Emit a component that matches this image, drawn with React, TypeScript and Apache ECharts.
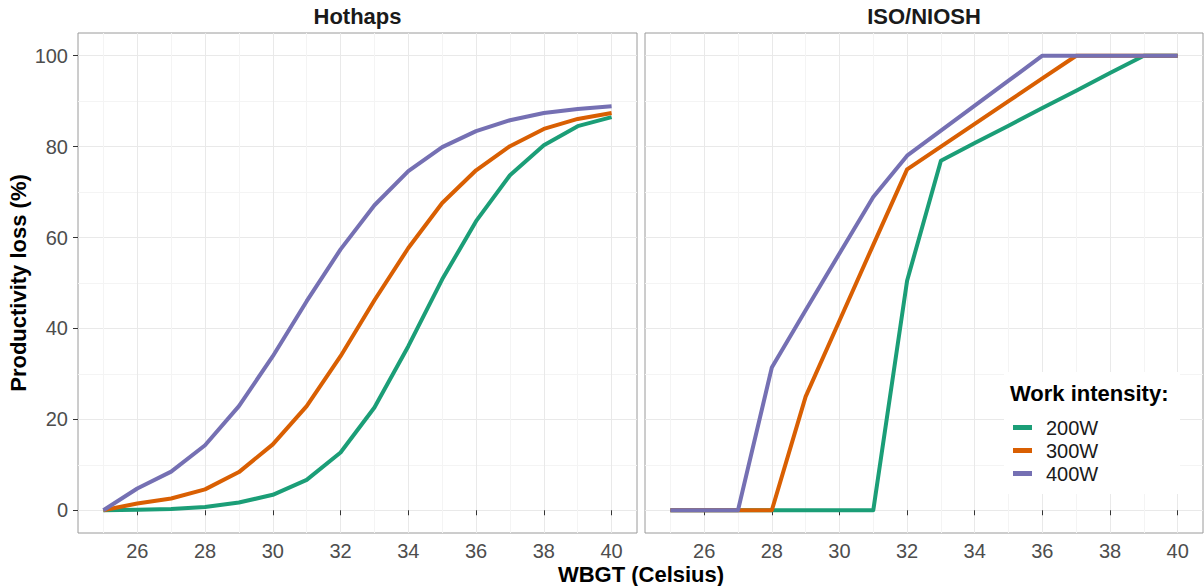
import React, { useEffect, useRef } from "react";
import * as echarts from "echarts";

const wbgt = [25, 26, 27, 28, 29, 30, 31, 32, 33, 34, 35, 36, 37, 38, 39, 40];

const hothaps200 = [0, 0.1, 0.3, 0.7, 1.7, 3.4, 6.7, 12.7, 22.6, 36.1, 50.8, 63.6, 73.7, 80.3, 84.5, 86.5];
const hothaps300 = [0, 1.5, 2.6, 4.6, 8.4, 14.5, 22.9, 33.9, 46.2, 57.7, 67.6, 74.8, 80.1, 83.9, 86.1, 87.4];
const hothaps400 = [0, 4.8, 8.5, 14.3, 22.9, 33.9, 46.0, 57.4, 67.1, 74.6, 79.9, 83.4, 85.8, 87.4, 88.3, 88.9];

const iso200 = [0, 0, 0, 0, 0, 0, 0, 50.5, 76.9, 80.8, 84.6, 88.5, 92.3, 96.2, 100, 100];
const iso300 = [0, 0, 0, 0, 25, 41.7, 58.4, 75, 80, 85, 90, 95, 100, 100, 100, 100];
const iso400 = [0, 0, 0, 31.4, 44, 56.5, 68.9, 78, 83.5, 89, 94.5, 100, 100, 100, 100, 100];

const panelTitles = ["Hothaps", "ISO/NIOSH"];
const seriesNames = ["200W", "300W", "400W"];
const colors = ["#1B9E77", "#D95F02", "#7570B3"];

const xTicks = [26, 28, 30, 32, 34, 36, 38, 40];
const xMinor = [25, 27, 29, 31, 33, 35, 37, 39];
const yTicks = [0, 20, 40, 60, 80, 100];
const yMinor = [10, 30, 50, 70, 90];

const FONT = "'Liberation Sans', Arial, Helvetica, sans-serif";

export default function App() {
  const ref = useRef<HTMLDivElement>(null);

  useEffect(() => {
    if (!ref.current) return;
    const chart = echarts.init(ref.current, undefined, { renderer: "svg" });

    const panels = [
      [hothaps200, hothaps300, hothaps400],
      [iso200, iso300, iso400],
    ];
    const gridLefts = [78, 645];
    const gridWidths = [559, 558];

    const grids = gridLefts.map((l, i) => ({
      left: l,
      top: 33,
      width: gridWidths[i],
      height: 500,
      show: true,
      borderColor: "#9a9a9a",
      borderWidth: 1,
      backgroundColor: "transparent",
    }));

    const xAxes: any[] = [];
    const yAxes: any[] = [];
    for (let p = 0; p < 2; p++) {
      xAxes.push({
        gridIndex: p,
        type: "value",
        min: 24.25,
        max: 40.75,
        axisLine: { show: false },
        axisTick: { show: true, customValues: xTicks, length: 5, lineStyle: { color: "#333333", width: 1 } },
        axisLabel: { customValues: xTicks, fontSize: 20, color: "#4d4d4d", margin: 8, fontFamily: FONT },
        splitLine: { show: true, lineStyle: { color: "#e9e9e9", width: 1 } },
      });
      xAxes.push({
        gridIndex: p,
        type: "value",
        min: 24.25,
        max: 40.75,
        position: "bottom",
        axisLine: { show: false },
        axisTick: { show: false, customValues: xMinor },
        axisLabel: { show: false, customValues: xMinor },
        splitLine: { show: true, lineStyle: { color: "#f4f4f4", width: 1 } },
      });
      yAxes.push({
        gridIndex: p,
        type: "value",
        min: -5,
        max: 105,
        axisLine: { show: false },
        axisTick: { show: p === 0, customValues: yTicks, length: 5, lineStyle: { color: "#333333", width: 1 } },
        axisLabel: { show: p === 0, customValues: yTicks, fontSize: 20, color: "#4d4d4d", margin: 10, fontFamily: FONT },
        splitLine: { show: true, lineStyle: { color: "#e9e9e9", width: 1 } },
      });
      yAxes.push({
        gridIndex: p,
        type: "value",
        min: -5,
        max: 105,
        position: "left",
        axisLine: { show: false },
        axisTick: { show: false, customValues: yMinor },
        axisLabel: { show: false, customValues: yMinor },
        splitLine: { show: true, lineStyle: { color: "#f4f4f4", width: 1 } },
      });
    }

    const series: any[] = [];
    panels.forEach((sets, p) => {
      sets.forEach((vals, k) => {
        series.push({
          type: "line",
          name: seriesNames[k],
          xAxisIndex: p * 2,
          yAxisIndex: p * 2,
          data: wbgt.map((x, i) => [x, vals[i]]),
          showSymbol: false,
          symbol: "none",
          lineStyle: { width: 4, color: colors[k], join: "round", cap: "butt" },
          itemStyle: { color: colors[k] },
          z: 3,
        });
      });
    });

    const graphic: any[] = [
      ...panelTitles.map((t, i) => ({
        type: "text",
        x: gridLefts[i] + gridWidths[i] / 2,
        y: 16,
        style: { text: t, font: `bold 22px ${FONT}`, fill: "#1a1a1a", align: "center", verticalAlign: "middle" },
      })),
      {
        type: "text",
        x: 641,
        y: 574,
        style: { text: "WBGT (Celsius)", font: `bold 22px ${FONT}`, fill: "#000000", align: "center", verticalAlign: "middle" },
      },
      {
        type: "text",
        x: 18,
        y: 283,
        rotation: Math.PI / 2,
        style: { text: "Productivity loss (%)", font: `bold 22px ${FONT}`, fill: "#000000", align: "center", verticalAlign: "middle" },
      },
      {
        type: "rect",
        shape: { x: 1004, y: 372, width: 176, height: 122 },
        style: { fill: "#ffffff" },
        z: 1,
      },
      {
        type: "text",
        x: 1010,
        y: 393,
        z: 5,
        style: { text: "Work intensity:", font: `bold 22px ${FONT}`, fill: "#000000", align: "left", verticalAlign: "middle" },
      },
    ];

    chart.setOption({
      animation: false,
      backgroundColor: "#ffffff",
      textStyle: { fontFamily: FONT },
      grid: grids,
      xAxis: xAxes,
      yAxis: yAxes,
      series,
      graphic,
      legend: {
        data: seriesNames.map((n) => ({ name: n, icon: "rect" })),
        orient: "vertical",
        left: 1013,
        top: 416,
        padding: 0,
        itemGap: 0,
        itemWidth: 19,
        itemHeight: 5,
        selectedMode: false,
        textStyle: { fontSize: 20, color: "#1a1a1a", fontFamily: FONT, lineHeight: 23, padding: [0, 0, 0, 9] },
        z: 6,
      },
    });

    return () => chart.dispose();
  }, []);

  return <div ref={ref} style={{ position: "absolute", left: 0, top: 0, width: 1204, height: 586 }} />;
}
